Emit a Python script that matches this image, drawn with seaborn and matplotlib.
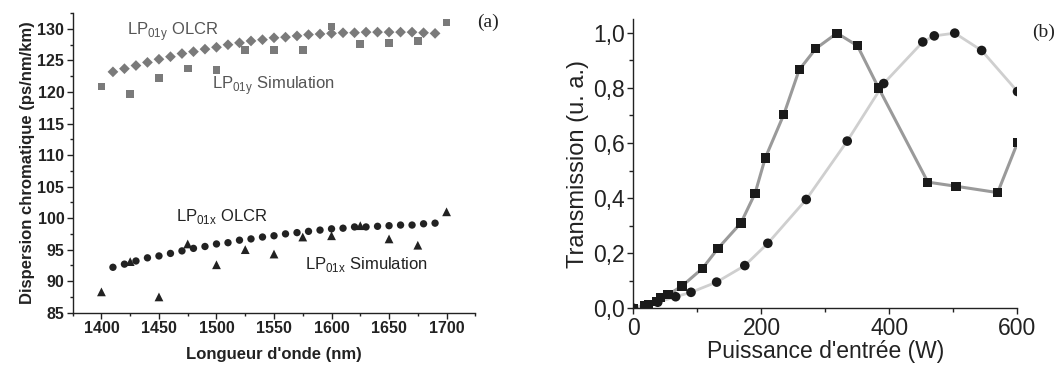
import numpy as np
import pandas as pd
import matplotlib
matplotlib.use("Agg")
import matplotlib.pyplot as plt
import seaborn as sns
from matplotlib.ticker import MultipleLocator, FuncFormatter

# ---------------- Data: panel (a) ----------------
olcr_wl = [1410, 1420, 1430, 1440, 1450, 1460, 1470, 1480, 1490, 1500,
           1510, 1520, 1530, 1540, 1550, 1560, 1570, 1580, 1590, 1600,
           1610, 1620, 1630, 1640, 1650, 1660, 1670, 1680, 1690]
lp01y_olcr = [123.2, 123.7, 124.2, 124.7, 125.2, 125.6, 126.1, 126.4, 126.8, 127.1,
              127.5, 127.8, 128.1, 128.3, 128.6, 128.7, 128.9, 129.1, 129.2, 129.3,
              129.4, 129.4, 129.5, 129.5, 129.5, 129.5, 129.5, 129.4, 129.3]
lp01x_olcr = [92.2, 92.7, 93.2, 93.7, 94.0, 94.4, 94.8, 95.2, 95.5, 95.9,
              96.1, 96.5, 96.7, 97.0, 97.2, 97.5, 97.7, 97.9, 98.1, 98.3,
              98.4, 98.6, 98.6, 98.7, 98.8, 98.9, 98.9, 99.1, 99.2]
sim_wl = [1400, 1425, 1450, 1475, 1500, 1525, 1550, 1575, 1600, 1625, 1650, 1675, 1700]
lp01y_sim = [120.9, 119.7, 122.2, 123.7, 123.5, 126.7, 126.7, 126.7, 130.4, 127.6, 127.8, 128.1, 131.0]
lp01x_sim = [88.3, 93.1, 87.5, 95.9, 92.6, 95.0, 94.3, 97.0, 97.2, 98.8, 96.7, 95.7, 101.0]

# ---------------- Data: panel (b) ----------------
sq_power = [0, 18, 23, 36, 42, 54, 76, 108, 132, 168, 190, 206, 235, 259, 285, 318, 350, 383, 460, 504, 569, 600]
sq_trans = [0.0, 0.008, 0.012, 0.024, 0.038, 0.049, 0.081, 0.145, 0.217, 0.310, 0.417, 0.546,
            0.704, 0.866, 0.943, 0.999, 0.953, 0.800, 0.458, 0.443, 0.420, 0.601]
ci_power = [0, 21, 38, 66, 90, 130, 174, 210, 270, 334, 391, 452, 470, 502, 544, 600]
ci_trans = [0.0, 0.012, 0.022, 0.042, 0.058, 0.095, 0.155, 0.236, 0.395, 0.607, 0.816,
            0.967, 0.989, 0.999, 0.936, 0.787]

sns.set_theme(style="ticks")
plt.rcParams['font.family'] = ['Liberation Sans', 'DejaVu Sans']

fig = plt.figure(figsize=(10.61, 3.67), dpi=100)
ax1 = fig.add_axes([0.0685, 0.148, 0.3795, 0.816])
ax2 = fig.add_axes([0.597, 0.160, 0.362, 0.788])

gray = '#7a7a7a'
dark = '#222222'

# ---- Panel (a) ----
sns.scatterplot(x=olcr_wl, y=lp01y_olcr, ax=ax1, marker='D', s=30, color=gray, edgecolor='none', clip_on=False)
sns.scatterplot(x=sim_wl, y=lp01y_sim, ax=ax1, marker='s', s=30, color=gray, edgecolor='none', clip_on=False)
sns.scatterplot(x=olcr_wl, y=lp01x_olcr, ax=ax1, marker='o', s=28, color=dark, edgecolor='none', clip_on=False)
sns.scatterplot(x=sim_wl, y=lp01x_sim, ax=ax1, marker='^', s=40, color=dark, edgecolor='none', clip_on=False)

ax1.set_xlim(1375, 1725)
ax1.set_ylim(85, 132.5)
ax1.xaxis.set_major_locator(MultipleLocator(50))
ax1.xaxis.set_minor_locator(MultipleLocator(25))
ax1.yaxis.set_major_locator(MultipleLocator(5))
ax1.yaxis.set_minor_locator(MultipleLocator(2.5))
ax1.tick_params(which='major', direction='out', length=4, width=1, color='#222222', labelsize=11.5, pad=2)
ax1.tick_params(which='minor', direction='out', length=2.5, width=1, color='#222222')
for lab in ax1.get_xticklabels() + ax1.get_yticklabels():
    lab.set_fontweight('bold')
    lab.set_color('#222222')
ax1.set_xlabel("Longueur d'onde (nm)", fontsize=12, fontweight='bold', color='#222222', labelpad=8)
ax1.set_ylabel("Dispersion chromatique (ps/nm/km)", fontsize=12, fontweight='bold', color='#222222', labelpad=2)
sns.despine(ax=ax1)
for sp in ['left', 'bottom']:
    ax1.spines[sp].set_color('#222222')
    ax1.spines[sp].set_linewidth(1)

ax1.text(1422, 129.6, r"LP$_{\mathregular{01y}}$ OLCR", fontsize=12, color='#555555', va='center')
ax1.text(1496, 121.0, r"LP$_{\mathregular{01y}}$ Simulation", fontsize=12, color='#555555', va='center')
ax1.text(1465, 100.3, r"LP$_{\mathregular{01x}}$ OLCR", fontsize=12, color='#222222', va='center')
ax1.text(1577, 92.6, r"LP$_{\mathregular{01x}}$ Simulation", fontsize=12, color='#222222', va='center')
fig.text(0.4496, 0.94, "(a)", fontsize=14, family=['Liberation Serif', 'DejaVu Serif'], color='#222222', va='center')

# ---- Panel (b) ----
sns.lineplot(x=sq_power, y=sq_trans, ax=ax2, color='#9a9a9a', linewidth=2.2, sort=False)
sns.lineplot(x=ci_power, y=ci_trans, ax=ax2, color='#cfcfcf', linewidth=2.0, sort=False)
sns.scatterplot(x=sq_power, y=sq_trans, ax=ax2, marker='s', s=44, color='#1a1a1a', edgecolor='none', zorder=3)
sns.scatterplot(x=ci_power, y=ci_trans, ax=ax2, marker='o', s=48, color='#1a1a1a', edgecolor='none', zorder=3)
ax2.set_xlim(0, 600)
ax2.set_ylim(0, 1.05)
ax2.xaxis.set_major_locator(MultipleLocator(200))
ax2.xaxis.set_minor_locator(MultipleLocator(100))
ax2.yaxis.set_major_locator(MultipleLocator(0.2))
ax2.yaxis.set_minor_locator(MultipleLocator(0.1))
ax2.yaxis.set_major_formatter(FuncFormatter(lambda v, p: f"{v:.1f}".replace('.', ',')))
ax2.tick_params(which='major', direction='out', length=4, width=1, color='#222222', labelsize=16.5, pad=2, labelcolor='#222222')
ax2.tick_params(which='minor', direction='out', length=3, width=1, color='#222222')
ax2.set_xlabel("Puissance d'entrée (W)", fontsize=16.5, color='#222222', labelpad=0)
ax2.set_ylabel("Transmission (u. a.)", fontsize=17, color='#222222', labelpad=3)
sns.despine(ax=ax2)
for sp in ['left', 'bottom']:
    ax2.spines[sp].set_color('#222222')
    ax2.spines[sp].set_linewidth(1)
fig.text(0.973, 0.912, "(b)", fontsize=14, family=['Liberation Serif', 'DejaVu Serif'], color='#222222', va='center')

fig.savefig("out.png", dpi=100)
